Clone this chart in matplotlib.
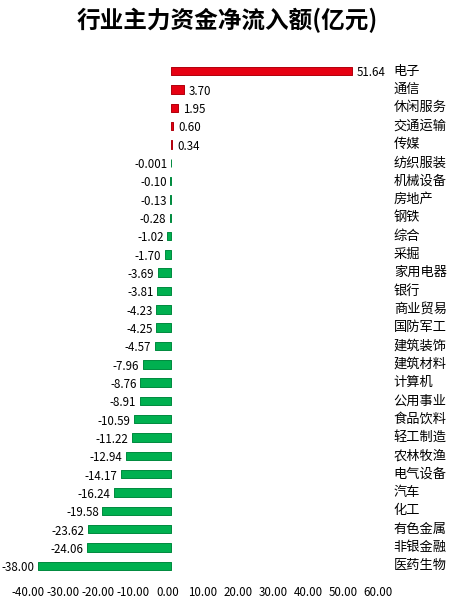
import numpy as np
import matplotlib
matplotlib.use("Agg")
import matplotlib.pyplot as plt

plt.rcParams['font.family'] = ['Noto Sans CJK SC', 'DejaVu Sans']

industries = ['电子', '通信', '休闲服务', '交通运输', '传媒', '纺织服装', '机械设备',
              '房地产', '钢铁', '综合', '采掘', '家用电器', '银行', '商业贸易',
              '国防军工', '建筑装饰', '建筑材料', '计算机', '公用事业', '食品饮料',
              '轻工制造', '农林牧渔', '电气设备', '汽车', '化工', '有色金属',
              '非银金融', '医药生物']
flows = [51.64, 3.70, 1.95, 0.60, 0.34, -0.001, -0.10, -0.13, -0.28, -1.02,
         -1.70, -3.69, -3.81, -4.23, -4.25, -4.57, -7.96, -8.76, -8.91, -10.59,
         -11.22, -12.94, -14.17, -16.24, -19.58, -23.62, -24.06, -38.00]
value_labels = ['51.64', '3.70', '1.95', '0.60', '0.34', '-0.001', '-0.10', '-0.13',
                '-0.28', '-1.02', '-1.70', '-3.69', '-3.81', '-4.23', '-4.25', '-4.57',
                '-7.96', '-8.76', '-8.91', '-10.59', '-11.22', '-12.94', '-14.17',
                '-16.24', '-19.58', '-23.62', '-24.06', '-38.00']
xticks = [-40, -30, -20, -10, 0, 10, 20, 30, 40, 50, 60]

fig = plt.figure(figsize=(4.55, 6.07), dpi=100)
ax = fig.add_axes([28 / 455, 1 - 575 / 607, 350 / 455, 513 / 607])

y = np.arange(len(industries))
colors = ['#E60012' if v > 0 else '#00B050' for v in flows]
edges = ['#B0000C' if v > 0 else '#008A3E' for v in flows]
ax.barh(y, flows, left=0.8, height=0.46, color=colors, edgecolor=edges,
        linewidth=0.7, joinstyle='round')

for yi, v, s in zip(y, flows, value_labels):
    if v >= 0:
        ax.text(v + 2.3, yi + 0.1, s, ha='left', va='center', fontsize=8.3)
    else:
        ax.text(v - 0.2, yi + 0.1, s, ha='right', va='center', fontsize=8.3)
    ax.text(64.5, yi, industries[yi], ha='left', va='center', fontsize=9.5,
            clip_on=False)

ax.set_xlim(-40, 60)
ax.set_ylim(len(industries) - 0.5, -0.5)
ax.set_xticks(xticks)
ax.set_xticklabels([f'{t:.2f}' for t in xticks], fontsize=8.3)
ax.set_yticks([])
ax.tick_params(axis='x', length=0, pad=8)
for sp in ax.spines.values():
    sp.set_visible(False)

fig.suptitle('行业主力资金净流入额(亿元)', x=0.5, y=0.987, fontsize=17,
             fontweight='bold')

fig.savefig('out.png', dpi=100)
